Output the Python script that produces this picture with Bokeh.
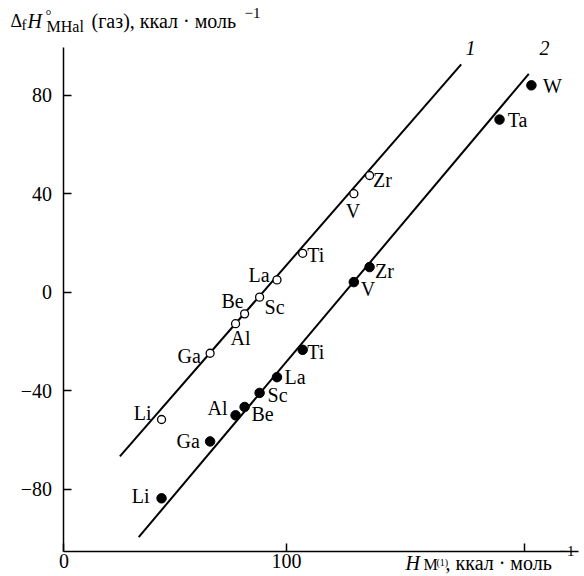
from bokeh.plotting import figure
from bokeh.models import Range1d, FixedTicker, Label, ColumnDataSource
from bokeh.core.properties import value
from bokeh.embed import file_html
from bokeh.resources import INLINE

# ---------------- data ----------------
elements_open = ["Li", "Ga", "Al", "Be", "Sc", "La", "Ti", "V", "Zr"]
h_metal_open = [47.5, 67.9, 78.6, 82.4, 88.7, 96.0, 106.8, 128.3, 134.9]
dh_open = [-51.7, -24.8, -12.8, -8.8, -2.0, 5.0, 15.8, 40.0, 47.4]

elements_filled = ["Li", "Ga", "Al", "Be", "Sc", "La", "Ti", "V", "Zr", "Ta", "W"]
h_metal_filled = [47.5, 67.9, 78.6, 82.4, 88.7, 96.0, 106.8, 128.3, 134.9, 189.5, 202.9]
dh_filled = [-83.7, -60.6, -50.0, -46.6, -40.9, -34.5, -23.4, 4.1, 10.2, 70.1, 84.0]

line1_x = [30.0, 173.4]
line1_y = [-66.7, 92.5]
line2_x = [37.9, 201.8]
line2_y = [-99.5, 88.7]

x_ticks = [100, 200]
y_ticks = [-80, -40, 0, 40, 80]
x_axis_bounds = (6.5, 222.7)
y_axis_bounds = (-105.3, 99.4)

# ---------------- label placement (style, screen px) ----------------
open_dx = [-19, -21, 5, -12, 15, -18, 13, -1, 13]
open_dy = [-7, 3, 14, -13, 10, -5, 2, 17, 5]
filled_dx = [-21, -22, -18, 18, 18, 18, 13, 14, 15, 18, 21]
filled_dy = [-2, 0, -7, 7, 2, 0, 2, 7, 4, 0, 1]

FONT = "Liberation Serif"
W, H = 584, 576
SX, SY = 2.38, 2.4625            # px per data unit
X0 = 100 - 286 / SX              # data x at left canvas edge
Y0 = 291.7 / SY                  # data y at top canvas edge

p = figure(width=W, height=H, output_backend="svg", toolbar_location=None,
           x_range=Range1d(X0, X0 + W / SX), y_range=Range1d(Y0 - H / SY, Y0),
           min_border=0)
p.outline_line_color = None
p.grid.visible = False
p.background_fill_color = "white"
p.border_fill_color = "white"

for ax in (p.xaxis[0], p.yaxis[0]):
    ax.axis_line_width = 1.5
    ax.axis_line_color = "black"
    ax.major_tick_line_width = 1.5
    ax.major_tick_line_color = "black"
    ax.major_tick_in = 8
    ax.major_tick_out = 0
    ax.minor_tick_line_color = None
    ax.major_label_text_font = FONT
    ax.major_label_text_font_size = "20px"
    ax.major_label_text_color = "black"

xa, ya = p.xaxis[0], p.yaxis[0]
xa.fixed_location = y_axis_bounds[0]
xa.bounds = x_axis_bounds
xa.ticker = FixedTicker(ticks=[x_axis_bounds[0]] + x_ticks)
xa.major_label_overrides = {x_axis_bounds[0]: "0", 200: ""}
xa.major_label_standoff = 2

ya.fixed_location = x_axis_bounds[0]
ya.bounds = y_axis_bounds
ya.ticker = FixedTicker(ticks=y_ticks)
ya.major_label_overrides = {-80: "\u221280", -40: "\u221240"}
ya.major_label_standoff = 12

# lines
p.line(line1_x, line1_y, line_width=2, line_color="black")
p.line(line2_x, line2_y, line_width=2, line_color="black")

# points
src_open = ColumnDataSource(dict(x=h_metal_open, y=dh_open, t=elements_open,
                                 dx=open_dx, dy=open_dy))
src_filled = ColumnDataSource(dict(x=h_metal_filled, y=dh_filled, t=elements_filled,
                                   dx=filled_dx, dy=filled_dy))
p.scatter("x", "y", source=src_open, size=8, marker="circle",
          fill_color="white", line_color="black", line_width=1.3)
p.scatter("x", "y", source=src_filled, size=9.5, marker="circle",
          fill_color="black", line_color="black")

for src in (src_open, src_filled):
    p.text("x", "y", text="t", source=src, x_offset="dx", y_offset="dy",
           text_font=value(FONT), text_font_size="20px", text_color="black",
           text_align="center", text_baseline="middle")


# ---------------- axis titles and curve numbers ----------------
def put(txt, px, py, size, style="normal", align="left"):
    p.add_layout(Label(x=X0 + px / SX, y=Y0 - py / SY, text=txt, text_font=FONT,
                       text_font_size=f"{size}px", text_font_style=style,
                       text_color="black", text_align=align,
                       text_baseline="alphabetic"))


# y-axis title
put("\u0394", 10, 20, 18)
put("f", 21, 24, 15)
put("H", 27, 20, 20, "italic")
put("\u00b0", 45, 14, 15)
put("MHal", 46, 26, 16)
put("(газ), ккал \u00b7 моль", 91, 20, 20)
put("\u22121", 244, 12, 15)

# x-axis title
put("H", 405, 562, 20, "italic")
put("M", 423, 564, 16)
put("(1)", 436, 562, 10)
put(", ккал \u00b7 моль", 445, 562, 20)
put("\u22121", 558, 550, 15)

# curve numbers
put("1", 470, 47, 20, "italic", "center")
put("2", 544, 47, 20, "italic", "center")

open("out.html", "w").write(file_html(p, INLINE))
